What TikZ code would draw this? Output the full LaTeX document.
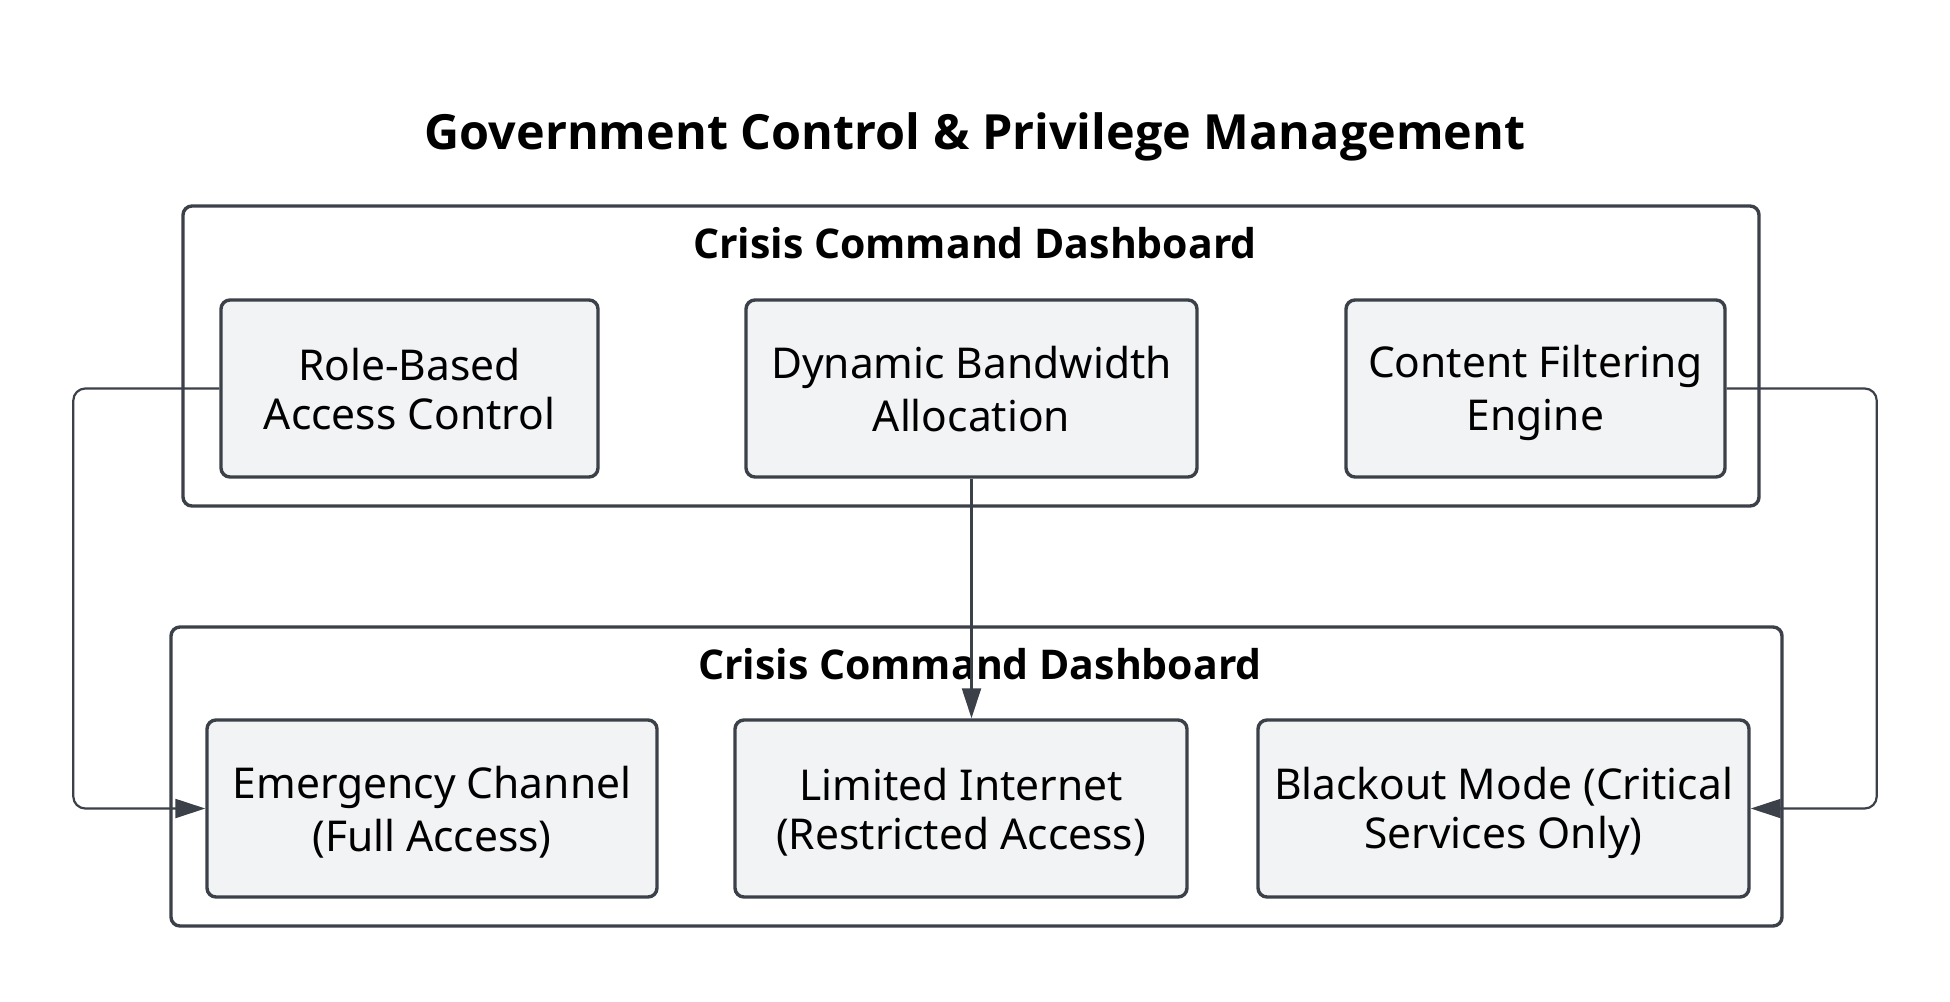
\documentclass[tikz,border=0pt]{standalone}
\usepackage{fontspec}
\setmainfont{Noto Sans}
\newfontfamily\titlefam{Open Sans}
\usetikzlibrary{arrows.meta}
\definecolor{strk}{HTML}{3B4049}
\definecolor{boxfill}{HTML}{F2F3F5}
\newcommand\bxstrut{\rule[-8pt]{0pt}{49pt}}
\tikzset{
  procbox/.style={draw=strk, line width=3.4pt, fill=boxfill, rounded corners=9pt,
    align=center, inner sep=0pt, text=black, font=\fontsize{42.5}{49}\selectfont},
  groupbox/.style={draw=strk, line width=3.4pt, fill=white, rounded corners=9pt, inner sep=0pt},
  grouptitle/.style={anchor=base, inner sep=0pt, font=\titlefam\bfseries\fontsize{41}{46}\selectfont},
  maintitle/.style={anchor=base, inner sep=0pt, font=\titlefam\bfseries\fontsize{48.5}{54}\selectfont},
  conn/.style={draw=strk, line width=2.2pt, rounded corners=12pt,
    -{Triangle[length=30pt,width=19pt]}}
}
\begin{document}
\begin{tikzpicture}[x=1pt,y=-1pt]
\useasboundingbox[fill=white] (0,0) rectangle (1950,1001);

\node[maintitle] (title) at (975,149) {Government Control \& Privilege Management};

% top group
\node[groupbox, minimum width=1576pt, minimum height=300pt] (g1) at (971,356) {};
\node[grouptitle] (g1t) at (975,258) {Crisis Command Dashboard};

\node[procbox, minimum width=377pt, minimum height=177pt] (rbac) at (409.5,388.5) {\bxstrut Role-Based\\\bxstrut Access Control};
\node[procbox, minimum width=451pt, minimum height=177pt] (dba) at (971.5,388.5) {\bxstrut Dynamic Bandwidth\\\bxstrut Allocation};
\node[procbox, minimum width=379pt, minimum height=177pt] (cfe) at (1535.5,388.5) {\bxstrut Content Filtering\\\bxstrut Engine};

% bottom group
\node[groupbox, minimum width=1611pt, minimum height=299pt] (g2) at (976.5,776.5) {};
\node[grouptitle] (g2t) at (980,679) {Crisis Command Dashboard};

\node[procbox, minimum width=450pt, minimum height=177pt] (emer) at (432,808.5) {\bxstrut Emergency Channel\\\bxstrut (Full Access)};
\node[procbox, minimum width=452pt, minimum height=177pt] (lim) at (961,808.5) {\bxstrut Limited Internet\\\bxstrut (Restricted Access)};
\node[procbox, minimum width=491pt, minimum height=177pt] (blk) at (1503.5,808.5) {\bxstrut Blackout Mode (Critical\\\bxstrut Services Only)};

% connectors
\draw[conn] (rbac.west) -- ++(-146,0) |- (emer.west);
\draw[conn] (cfe.east) -- ++(150,0) |- (blk.east);
\draw[conn] (dba.south) -- (dba.south |- lim.north);
\end{tikzpicture}
\end{document}
